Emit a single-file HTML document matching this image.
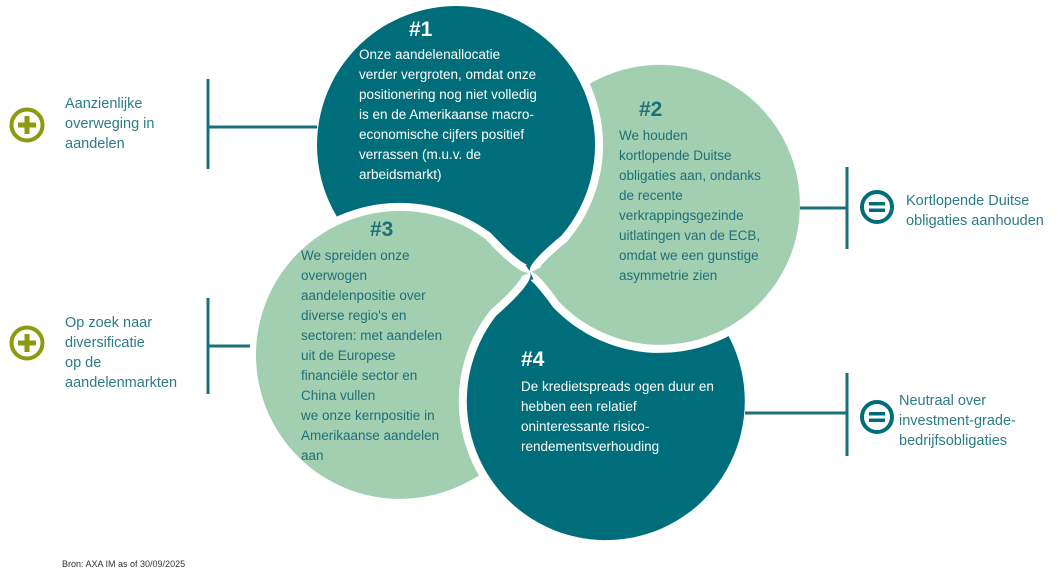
<!DOCTYPE html>
<html><head><meta charset="utf-8"><style>
html,body{margin:0;padding:0;background:#fff;}
svg{display:block;}
text{font-family:"Liberation Sans",sans-serif;}
.w{fill:#fff;font-size:13.5px;}
.d{fill:#1f6f79;font-size:13.5px;}
.l{fill:#2b7c87;font-size:14.5px;}
.h{font-size:21px;font-weight:bold;}
</style></head><body>
<svg width="1060" height="575" viewBox="0 0 1060 575" xmlns="http://www.w3.org/2000/svg">
<defs>
<path id="p1" d="M483,281.4 Q525.9,265.1 530,272 Q525.9,265.1 561.3,235.8 A139,139 0 1 0 483,281.4 Z"/>
<path id="p2" d="M522.3,230.5 Q535.5,269.3 530,272 Q535.5,269.3 559.5,302.4 A140,140 0 1 0 522.3,230.5 Z"/>
<path id="p3" d="M541,325.8 Q521.4,277.4 530,272 Q521.4,277.4 485.7,239.2 A144,144 0 1 0 541,325.8 Z"/>
<path id="p4" d="M585,263.7 Q535.4,281.2 530,272 Q535.4,281.2 496,315.9 A139,139 0 1 0 585,263.7 Z"/>
<clipPath id="c2"><polygon points="531,272 600,240 900,240 900,470 531,470"/></clipPath>
</defs>
<use href="#p2" fill="#a3cfb1"/>
<use href="#p1" fill="none" stroke="#fff" stroke-width="16"/>
<use href="#p1" fill="#006e7a"/>
<use href="#p3" fill="none" stroke="#fff" stroke-width="16"/>
<use href="#p3" fill="#a3cfb1"/>
<use href="#p4" fill="none" stroke="#fff" stroke-width="16"/>
<use href="#p4" fill="#006e7a"/>
<g clip-path="url(#c2)">
<use href="#p2" fill="none" stroke="#fff" stroke-width="16"/>
<use href="#p2" fill="#a3cfb1"/>
</g>

<g stroke="#1a6f79" stroke-width="3" fill="none">
<path d="M208,79 V169 M208,127 H317"/>
<path d="M208,298 V394 M208,346 H250"/>
<path d="M847,167 V249 M800,208 H847"/>
<path d="M847,373 V456 M745,413 H847"/>
</g>

<g fill="none" stroke="#8c9a0d" stroke-width="4">
<circle cx="27" cy="125" r="15.5"/>
<circle cx="27" cy="343" r="15.5"/>
</g>
<g fill="#8c9a0d">
<rect x="18" y="122.5" width="18" height="5"/><rect x="24.5" y="116" width="5" height="18"/>
<rect x="18" y="340.5" width="18" height="5"/><rect x="24.5" y="334" width="5" height="18"/>
</g>
<g fill="none" stroke="#006e7a" stroke-width="4">
<circle cx="877" cy="207" r="15"/>
<circle cx="877" cy="417" r="15"/>
</g>
<g fill="#006e7a">
<rect x="869" y="202" width="16" height="3.5"/><rect x="869" y="208.5" width="16" height="3.5"/>
<rect x="869" y="412" width="16" height="3.5"/><rect x="869" y="418.5" width="16" height="3.5"/>
</g>

<text class="l" x="65" y="108">Aanzienlijke</text>
<text class="l" x="65" y="128">overweging in</text>
<text class="l" x="65" y="148">aandelen</text>
<text class="l" x="65" y="327">Op zoek naar</text>
<text class="l" x="65" y="347">diversificatie</text>
<text class="l" x="65" y="367">op de</text>
<text class="l" x="65" y="387">aandelenmarkten</text>
<text class="l" x="906" y="205">Kortlopende Duitse</text>
<text class="l" x="906" y="225">obligaties aanhouden</text>
<text class="l" x="899" y="405">Neutraal over</text>
<text class="l" x="899" y="425">investment-grade-</text>
<text class="l" x="899" y="445">bedrijfsobligaties</text>

<text class="h" x="409" y="36" fill="#fff">#1</text>
<text class="w" x="359" y="59">Onze aandelenallocatie</text>
<text class="w" x="359" y="79">verder vergroten, omdat onze</text>
<text class="w" x="359" y="99">positionering nog niet volledig</text>
<text class="w" x="359" y="119">is en de Amerikaanse macro-</text>
<text class="w" x="359" y="139">economische cijfers positief</text>
<text class="w" x="359" y="159">verrassen (m.u.v. de</text>
<text class="w" x="359" y="179">arbeidsmarkt)</text>

<text class="h" x="639" y="116" fill="#1f6f79">#2</text>
<text class="d" x="619" y="140">We houden</text>
<text class="d" x="619" y="160">kortlopende Duitse</text>
<text class="d" x="619" y="180">obligaties aan, ondanks</text>
<text class="d" x="619" y="200">de recente</text>
<text class="d" x="619" y="220">verkrappingsgezinde</text>
<text class="d" x="619" y="240">uitlatingen van de ECB,</text>
<text class="d" x="619" y="260">omdat we een gunstige</text>
<text class="d" x="619" y="280">asymmetrie zien</text>

<text class="h" x="370" y="236" fill="#1f6f79">#3</text>
<text class="d" x="301" y="260">We spreiden onze</text>
<text class="d" x="301" y="280">overwogen</text>
<text class="d" x="301" y="300">aandelenpositie over</text>
<text class="d" x="301" y="320">diverse regio's en</text>
<text class="d" x="301" y="340">sectoren: met aandelen</text>
<text class="d" x="301" y="360">uit de Europese</text>
<text class="d" x="301" y="380">financiële sector en</text>
<text class="d" x="301" y="400">China vullen</text>
<text class="d" x="301" y="420">we onze kernpositie in</text>
<text class="d" x="301" y="440">Amerikaanse aandelen</text>
<text class="d" x="301" y="460">aan</text>

<text class="h" x="521" y="366" fill="#fff">#4</text>
<text class="w" x="521" y="391">De kredietspreads ogen duur en</text>
<text class="w" x="521" y="411">hebben een relatief</text>
<text class="w" x="521" y="431">oninteressante risico-</text>
<text class="w" x="521" y="451">rendementsverhouding</text>

<text x="62" y="567" font-size="9" fill="#333">Bron: AXA IM as of 30/09/2025</text>
</svg>
</body></html>
